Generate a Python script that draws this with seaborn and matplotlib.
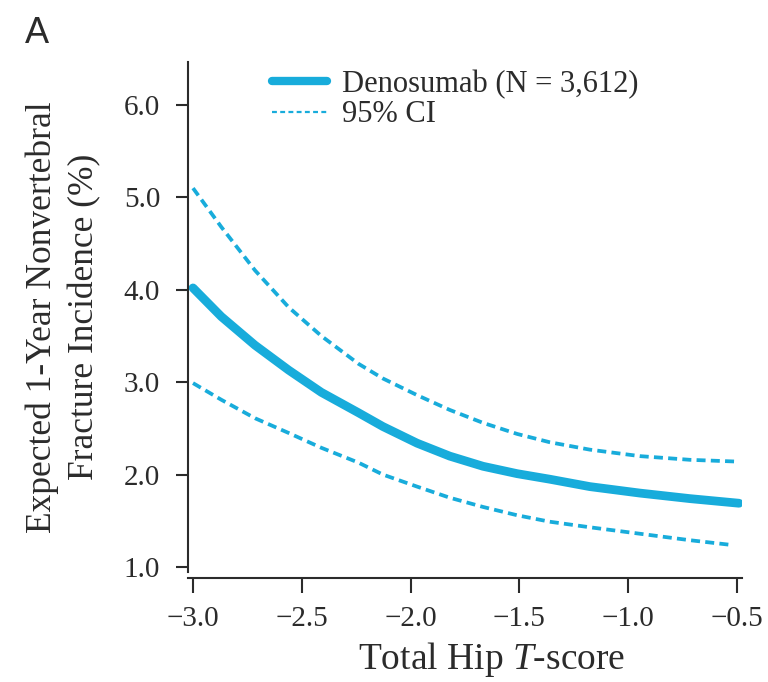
import numpy as np
import pandas as pd
import matplotlib
matplotlib.use("Agg")
import matplotlib.pyplot as plt
import seaborn as sns
from matplotlib.lines import Line2D

# ---- data ----
t_score = [-3.0, -2.87, -2.715, -2.56, -2.41, -2.24, -2.127, -1.97, -1.82,
           -1.667, -1.51, -1.36, -1.176, -0.946, -0.716, -0.49]
mean_inc = [4.02, 3.71, 3.40, 3.13, 2.89, 2.67, 2.52, 2.34, 2.20,
            2.09, 2.01, 1.95, 1.87, 1.80, 1.74, 1.69]
upper_ci = [5.10, 4.68, 4.21, 3.81, 3.50, 3.20, 3.04, 2.86, 2.70,
            2.56, 2.44, 2.35, 2.27, 2.20, 2.16, 2.14]
t_score_lower = [-3.0, -2.87, -2.715, -2.56, -2.41, -2.24, -2.127, -1.97, -1.82,
                 -1.667, -1.51, -1.36, -1.176, -0.946, -0.716, -0.53]
lower_ci = [2.99, 2.81, 2.61, 2.45, 2.29, 2.13, 2.00, 1.87, 1.75,
            1.65, 1.56, 1.49, 1.43, 1.36, 1.29, 1.24]

xticks = [-3.0, -2.5, -2.0, -1.5, -1.0, -0.5]
xtick_labels = ["\u22123.0", "\u22122.5", "\u22122.0", "\u22121.5", "\u22121.0", "\u22120.5"]
yticks = [1.0, 2.0, 3.0, 4.0, 5.0, 6.0]
ytick_labels = ["1.0", "2.0", "3.0", "4.0", "5.0", "6.0"]

series_label = "Denosumab (N = 3,612)"
ci_label = "95% CI"
color = "#18acdb"
ink = "#2b2b2b"

sns.set_theme(style="ticks")
plt.rcParams["font.family"] = ["Liberation Serif", "DejaVu Serif"]
plt.rcParams["mathtext.fontset"] = "custom"
plt.rcParams["mathtext.rm"] = "Liberation Serif"
plt.rcParams["mathtext.it"] = "Liberation Serif:italic"

fig = plt.figure(figsize=(7.68, 6.82), dpi=100)
ax = fig.add_axes([0.2448, 0.1613, 0.7212, 0.7478])

df_mean = pd.DataFrame({"t": t_score, "v": mean_inc})
df_up = pd.DataFrame({"t": t_score, "v": upper_ci})
df_lo = pd.DataFrame({"t": t_score_lower, "v": lower_ci})

sns.lineplot(data=df_up, x="t", y="v", ax=ax, color=color, linewidth=2.7)
ax.lines[-1].set_dashes((2.4, 1.4))
sns.lineplot(data=df_lo, x="t", y="v", ax=ax, color=color, linewidth=2.7)
ax.lines[-1].set_dashes((2.4, 1.4))
sns.lineplot(data=df_mean, x="t", y="v", ax=ax, color=color, linewidth=6.3,
             solid_capstyle="round", solid_joinstyle="round")

ax.set_xlim(-3.023, -0.477)
ax.set_ylim(0.946, 6.465)
ax.set_xticks(xticks)
ax.set_xticklabels(xtick_labels)
ax.set_yticks(yticks)
ax.set_yticklabels(ytick_labels)

for s in ["top", "right"]:
    ax.spines[s].set_visible(False)
ax.spines["bottom"].set_position(("outward", 4))
for s in ["left", "bottom"]:
    ax.spines[s].set_color(ink)
    ax.spines[s].set_linewidth(1.5)

ax.tick_params(axis="both", colors=ink, width=1.5, labelsize=21, labelcolor=ink)
ax.tick_params(axis="y", length=9, pad=11)
ax.tick_params(axis="x", length=10.5, pad=10)

ax.set_xlabel(r"Total Hip $\mathit{T}$-score", fontsize=27, color=ink, labelpad=6)
ax.xaxis.label.set_x(0.548)
ax.set_ylabel("Expected 1-Year Nonvertebral\nFracture Incidence (%)", fontsize=25.5,
              color=ink, labelpad=16, linespacing=1.38)

handles = [
    Line2D([0], [0], color=color, linewidth=6.0),
    Line2D([0], [0], color=color, linewidth=1.6, dashes=(2.2, 1.5)),
]
ax.legend(handles, [series_label, ci_label], loc="upper left",
          bbox_to_anchor=(0.152, 0.985), frameon=False, fontsize=22,
          handlelength=1.8, handletextpad=0.5, labelspacing=0.05,
          borderaxespad=0, borderpad=0, labelcolor=ink)

fig.text(0.032, 0.937, "A", fontsize=26, family=["Liberation Sans", "DejaVu Sans"],
         color=ink)

fig.savefig("out.png", dpi=100)
